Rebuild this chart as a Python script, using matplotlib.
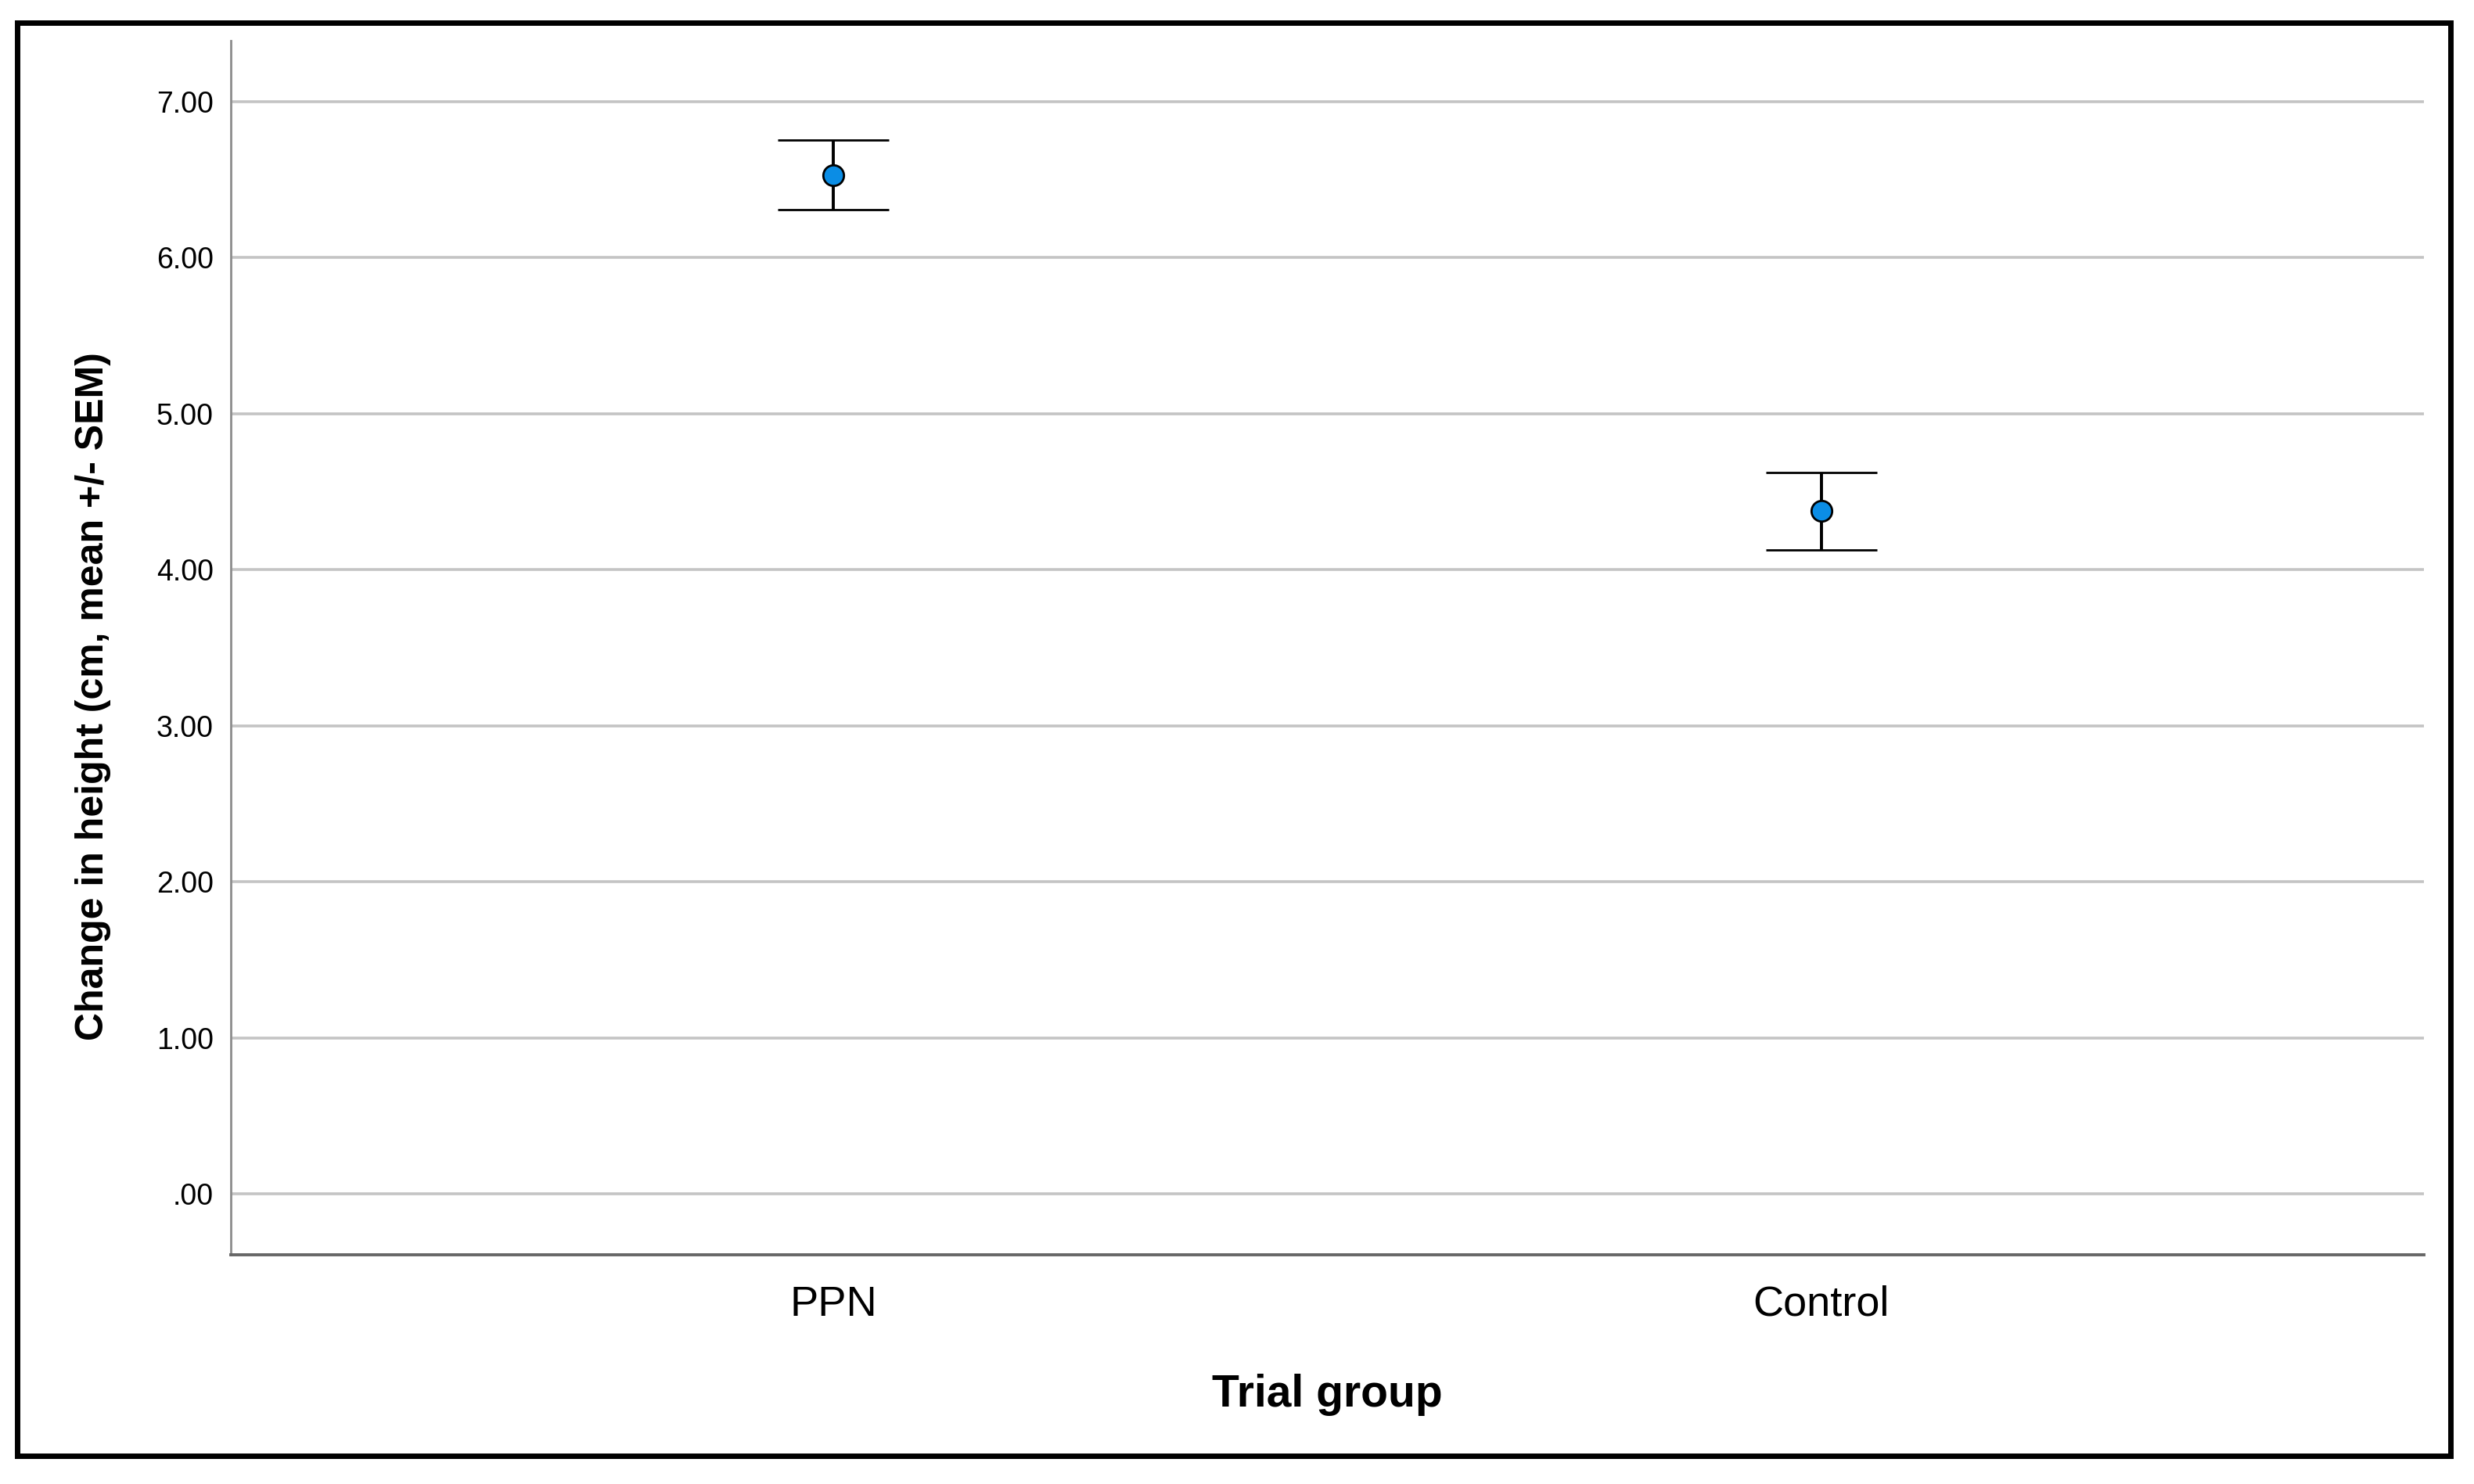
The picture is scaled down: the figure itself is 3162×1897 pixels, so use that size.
import matplotlib
matplotlib.use("Agg")
import matplotlib.pyplot as plt
from matplotlib.patches import Rectangle

# values
groups = ["PPN", "Control"]
means = [6.53, 4.375]
sems = [0.224, 0.249]
y_ticks = [0, 1, 2, 3, 4, 5, 6, 7]
y_tick_labels = [".00", "1.00", "2.00", "3.00", "4.00", "5.00", "6.00", "7.00"]

plt.rcParams['font.family'] = ['Liberation Sans', 'DejaVu Sans']

fig = plt.figure(figsize=(15.81, 9.485), dpi=200)
ax = fig.add_axes([0.0933, 0.1545, 0.8864, 0.8181])

x = list(range(len(groups)))
ax.errorbar(x, means, yerr=sems, fmt='o', color='black', ecolor='black',
            elinewidth=1.4, capsize=25.5, capthick=2.0,
            markersize=9.5, markerfacecolor='#0b8de5', markeredgecolor='black',
            markeredgewidth=1.0, zorder=3)

ax.set_xlim(-0.61, 1.61)
ax.set_ylim(-0.39, 7.39)
ax.set_xticks(x)
ax.set_xticklabels(groups, fontsize=19.5)
ax.set_yticks(y_ticks)
ax.set_yticklabels(y_tick_labels, fontsize=13.5)
ax.tick_params(axis='both', length=0)
ax.tick_params(axis='y', pad=8)
ax.tick_params(axis='x', pad=14)

ax.grid(axis='y', color='#c4c4c4', linewidth=1.3, zorder=0)
ax.set_axisbelow(True)
for side in ['top', 'right']:
    ax.spines[side].set_visible(False)
ax.spines['left'].set_color('#8c8c8c')
ax.spines['left'].set_linewidth(1.0)
ax.spines['bottom'].set_color('#666666')
ax.spines['bottom'].set_linewidth(1.4)

fig.text(0.0375, 0.531, "Change in height (cm, mean +/- SEM)", rotation=90,
         ha='center', va='center', fontsize=18.0, fontweight='bold')
fig.text(0.5365, 0.0601, "Trial group", ha='center', va='center',
         fontsize=20.5, fontweight='bold')

# black frame around the whole chart
frame = Rectangle((22 / 3162, 1 - 1861 / 1897), (3132 - 22) / 3162, (1861 - 29) / 1897,
                  transform=fig.transFigure, fill=False, edgecolor='black',
                  linewidth=2.5, zorder=10)
fig.patches.append(frame)

fig.savefig("out.png", dpi=200, facecolor='white')
